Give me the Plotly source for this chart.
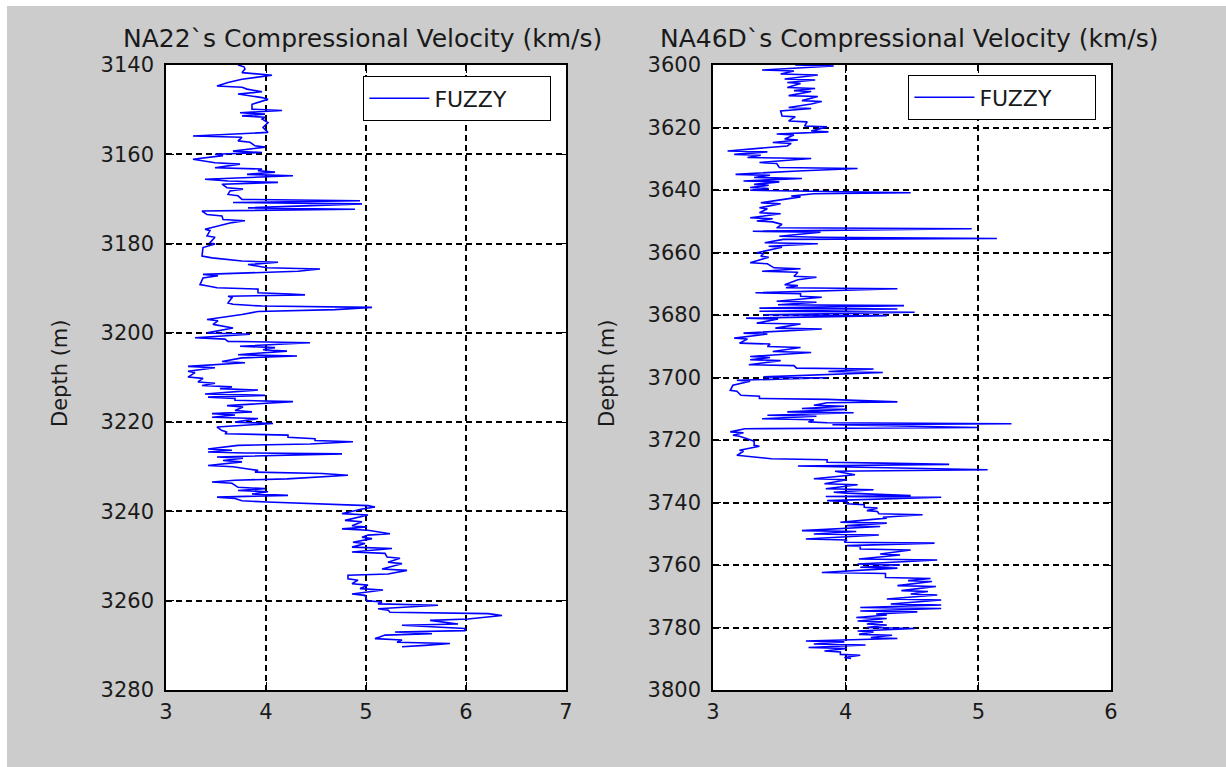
import plotly.graph_objects as go

# ---------------- data ----------------
na22_depth = [
    3140.0, 3140.4, 3140.9, 3141.7, 3142.3, 3143.2, 3143.9, 3144.7, 3145.0, 3145.4,
    3146.0, 3146.5, 3147.3, 3147.7, 3148.8, 3149.9, 3150.2, 3150.7, 3151.0, 3151.4,
    3151.7, 3152.1, 3152.9, 3154.0, 3155.1, 3155.9, 3156.2, 3157.0, 3157.3, 3158.1,
    3158.4, 3159.3, 3159.6, 3160.0, 3160.3, 3161.1, 3161.9, 3162.2, 3163.0, 3163.3,
    3163.7, 3164.0, 3164.5, 3164.8, 3165.6, 3166.0, 3166.3, 3166.7, 3167.5, 3167.8,
    3168.2, 3169.0, 3169.3, 3170.1, 3170.4, 3170.8, 3171.1, 3172.0, 3172.3, 3172.7,
    3173.5, 3173.8, 3174.6, 3174.9, 3175.3, 3176.8, 3177.1, 3178.3, 3178.6, 3179.8,
    3180.1, 3180.9, 3182.8, 3183.2, 3183.9, 3184.2, 3184.7, 3185.4, 3185.7, 3186.2,
    3186.9, 3187.2, 3187.7, 3189.2, 3189.5, 3189.9, 3190.2, 3191.0, 3191.3, 3191.5,
    3191.8, 3192.1, 3193.3, 3193.6, 3194.0, 3194.3, 3194.8, 3195.2, 3195.9, 3197.0,
    3197.3, 3198.1, 3198.9, 3200.0, 3200.3, 3201.1, 3201.4, 3201.9, 3202.2, 3203.0,
    3203.3, 3203.8, 3204.1, 3204.9, 3205.2, 3205.6, 3206.4, 3206.7, 3207.5, 3207.8,
    3208.6, 3208.9, 3209.9, 3210.2, 3211.0, 3211.3, 3211.8, 3212.1, 3212.5, 3212.8,
    3213.7, 3214.0, 3214.4, 3214.7, 3215.1, 3215.4, 3216.3, 3216.6, 3217.4, 3217.7,
    3218.1, 3218.4, 3218.9, 3219.2, 3220.0, 3220.3, 3221.1, 3221.9, 3222.2, 3222.6,
    3222.9, 3223.4, 3223.7, 3224.1, 3224.4, 3224.9, 3225.2, 3226.0, 3226.3, 3226.7,
    3226.9, 3227.1, 3227.8, 3228.1, 3228.6, 3228.9, 3229.7, 3230.0, 3230.5, 3230.8,
    3231.2, 3231.5, 3231.9, 3232.7, 3233.0, 3233.4, 3233.7, 3234.6, 3234.9, 3235.3,
    3235.6, 3236.1, 3236.4, 3236.8, 3237.1, 3237.6, 3237.9, 3238.3, 3238.7, 3239.0,
    3239.5, 3240.5, 3240.8, 3242.0, 3242.3, 3243.2, 3243.5, 3243.9, 3244.2, 3245.0,
    3245.3, 3245.8, 3246.1, 3246.9, 3247.2, 3248.0, 3248.3, 3249.1, 3249.4, 3250.2,
    3250.5, 3251.4, 3251.7, 3252.9, 3253.2, 3254.0, 3254.3, 3255.1, 3255.4, 3256.2,
    3256.5, 3257.3, 3257.6, 3258.5, 3258.8, 3260.0, 3260.3, 3260.7, 3261.0, 3261.8,
    3262.1, 3262.6, 3262.9, 3263.3, 3264.1, 3264.4, 3265.2, 3265.5, 3265.9, 3266.2,
    3266.7, 3267.0, 3267.4, 3267.7, 3268.5, 3268.8, 3269.3, 3269.6, 3270.0, 3270.3,
]
na22_vel = [
    3.72, 3.78, 3.79, 3.76, 4.06, 3.76, 3.62, 3.51, 3.76, 3.81,
    3.96, 3.72, 3.96, 4.02, 3.86, 3.86, 4.16, 3.74, 3.99, 3.76,
    3.99, 3.96, 4.02, 3.97, 4.02, 3.27, 3.76, 3.72, 3.84, 3.89,
    3.99, 3.67, 3.96, 3.49, 3.57, 3.27, 3.49, 3.74, 3.49, 3.96,
    3.92, 4.09, 3.81, 4.27, 3.39, 3.62, 4.12, 3.56, 3.61, 3.77,
    3.64, 3.62, 3.72, 3.76, 4.94, 3.67, 4.96, 3.82, 4.89, 3.36,
    3.41, 3.56, 3.57, 3.79, 3.66, 3.39, 3.44, 3.41, 3.49, 3.44,
    3.49, 3.37, 3.36, 3.46, 3.76, 4.12, 3.82, 4.01, 4.54, 4.32,
    3.37, 3.52, 3.37, 3.34, 3.42, 3.51, 3.92, 3.92, 4.24, 4.39,
    3.62, 3.66, 3.62, 3.67, 3.96, 5.06, 4.69, 3.92, 3.76, 3.41,
    3.52, 3.47, 3.67, 3.41, 3.84, 3.29, 3.59, 3.62, 4.44, 3.74,
    4.09, 3.97, 4.21, 3.72, 4.31, 3.76, 3.56, 3.79, 3.22, 3.49,
    3.22, 3.29, 3.22, 3.37, 3.32, 3.49, 3.36, 3.66, 3.54, 3.92,
    3.39, 3.99, 3.42, 3.69, 3.69, 4.27, 3.61, 3.77, 3.69, 3.86,
    3.46, 3.69, 3.46, 3.92, 3.69, 4.07, 3.51, 3.56, 3.61, 3.59,
    4.22, 4.22, 4.49, 4.49, 4.87, 4.44, 3.72, 3.42, 3.66, 3.42,
    3.79, 4.76, 3.51, 3.77, 3.57, 3.76, 3.42, 3.67, 3.82, 3.92,
    3.89, 4.56, 4.82, 4.21, 3.69, 3.46, 3.66, 3.72, 3.99, 3.72,
    4.02, 3.86, 4.22, 3.51, 3.69, 3.76, 4.01, 4.49, 5.02, 5.09,
    4.95, 4.76, 5.02, 4.79, 4.96, 4.86, 5.01, 4.76, 5.02, 5.24,
    5.02, 4.96, 5.06, 4.87, 4.99, 4.86, 5.26, 4.86, 5.19, 5.21,
    5.34, 5.22, 5.36, 5.16, 5.41, 5.22, 4.82, 4.82, 4.92, 4.86,
    5.02, 4.94, 5.17, 4.86, 4.99, 5.01, 5.16, 5.12, 5.72, 5.12,
    5.22, 5.24, 6.22, 6.36, 6.02, 5.64, 5.92, 5.36, 5.66, 5.99,
    5.99, 5.29, 5.66, 5.19, 5.09, 5.36, 5.31, 5.84, 5.59, 5.36,
]

na46d_depth = [
    3600.0, 3600.3, 3601.6, 3601.9, 3602.9, 3603.2, 3604.5, 3604.8, 3605.6, 3605.9,
    3607.2, 3607.5, 3608.2, 3608.5, 3609.8, 3610.1, 3611.4, 3611.7, 3612.5, 3613.6,
    3613.9, 3614.7, 3616.3, 3616.6, 3617.9, 3618.2, 3619.5, 3619.8, 3621.1, 3621.4,
    3622.1, 3622.4, 3623.7, 3624.0, 3624.8, 3625.1, 3625.9, 3627.5, 3627.8, 3628.6,
    3628.9, 3629.6, 3629.9, 3631.2, 3631.5, 3632.8, 3633.1, 3633.9, 3635.0, 3635.3,
    3636.0, 3636.3, 3637.1, 3637.4, 3638.2, 3638.5, 3639.2, 3639.5, 3640.1, 3640.4,
    3640.9, 3641.2, 3641.9, 3642.2, 3643.0, 3644.1, 3644.4, 3645.7, 3646.0, 3647.3,
    3647.6, 3648.9, 3649.2, 3649.9, 3650.2, 3651.0, 3652.1, 3652.4, 3653.2, 3653.5,
    3654.8, 3655.1, 3655.5, 3655.8, 3656.9, 3657.2, 3658.0, 3658.3, 3660.1, 3660.4,
    3661.2, 3661.5, 3663.3, 3663.6, 3664.9, 3665.2, 3666.0, 3666.3, 3667.6, 3667.9,
    3668.7, 3670.3, 3670.6, 3671.3, 3671.6, 3672.9, 3673.2, 3674.0, 3674.3, 3675.6,
    3675.9, 3676.7, 3677.0, 3677.8, 3678.1, 3678.8, 3679.1, 3679.9, 3680.2, 3681.0,
    3681.3, 3682.6, 3682.9, 3684.2, 3684.5, 3685.8, 3686.1, 3687.4, 3687.7, 3689.0,
    3689.3, 3690.1, 3690.4, 3691.7, 3692.0, 3693.3, 3693.6, 3694.3, 3694.6, 3695.9,
    3696.2, 3697.0, 3697.3, 3698.1, 3698.4, 3699.8, 3700.1, 3700.9, 3701.2, 3702.5,
    3704.1, 3704.4, 3705.7, 3706.0, 3706.7, 3707.0, 3707.8, 3708.1, 3708.9, 3709.2,
    3709.9, 3710.2, 3711.0, 3711.3, 3712.1, 3712.4, 3713.2, 3713.5, 3714.2, 3714.5,
    3714.8, 3715.1, 3716.0, 3716.4, 3717.4, 3717.7, 3718.5, 3718.8, 3720.1, 3720.4,
    3721.7, 3722.0, 3723.3, 3723.6, 3724.9, 3725.2, 3726.0, 3726.3, 3727.1, 3727.4,
    3727.8, 3728.3, 3729.2, 3729.5, 3730.0, 3731.1, 3732.4, 3732.7, 3734.0, 3734.3,
    3735.6, 3735.9, 3736.7, 3737.0, 3737.8, 3738.1, 3738.3, 3739.4, 3739.7, 3740.4,
    3740.7, 3741.5, 3741.8, 3742.6, 3742.9, 3743.6, 3743.9, 3744.7, 3745.0, 3746.3,
    3746.6, 3747.4, 3747.7, 3749.0, 3749.3, 3750.1, 3750.4, 3751.7, 3752.0, 3752.7,
    3753.0, 3753.8, 3754.1, 3754.9, 3755.2, 3756.5, 3756.8, 3758.1, 3758.4, 3759.7,
    3760.0, 3760.7, 3761.0, 3762.4, 3762.7, 3764.0, 3764.3, 3765.0, 3765.3, 3766.6,
    3766.9, 3768.2, 3768.5, 3769.3, 3769.6, 3770.9, 3771.2, 3772.5, 3772.8, 3773.6,
    3773.9, 3774.7, 3775.0, 3775.7, 3776.0, 3776.8, 3777.1, 3777.9, 3778.2, 3778.9,
    3779.2, 3780.0, 3780.3, 3781.1, 3781.4, 3782.2, 3782.5, 3783.2, 3783.5, 3784.3,
    3784.6, 3785.3, 3785.6, 3786.4, 3786.7, 3787.5, 3787.8, 3788.6, 3788.9, 3789.6,
    3789.9,
]
na46d_vel = [
    3.62, 3.91, 3.37, 3.61, 3.51, 3.79, 3.54, 3.77, 3.56, 3.66,
    3.56, 3.77, 3.61, 3.74, 3.57, 3.79, 3.67, 3.82, 3.74, 3.57,
    3.74, 3.51, 3.52, 3.62, 3.57, 3.71, 3.69, 3.86, 3.74, 3.87,
    3.48, 3.61, 3.54, 3.64, 3.45, 3.59, 3.56, 3.11, 3.41, 3.16,
    3.36, 3.26, 3.74, 3.35, 3.48, 3.50, 4.09, 3.64, 3.17, 3.43,
    3.31, 3.67, 3.23, 3.50, 3.31, 3.42, 3.28, 3.42, 3.28, 3.76,
    4.49, 3.76, 3.59, 3.66, 3.52, 3.36, 3.51, 3.35, 3.41, 3.35,
    3.51, 3.28, 3.45, 3.33, 3.45, 3.52, 3.48, 4.95, 3.30, 3.81,
    3.50, 3.80, 5.14, 3.53, 3.39, 3.79, 3.42, 3.52, 3.33, 3.38,
    3.36, 3.42, 3.28, 3.41, 3.46, 3.66, 3.37, 3.64, 3.61, 3.78,
    3.64, 3.54, 3.64, 3.55, 4.39, 3.32, 3.66, 3.66, 3.82, 3.48,
    3.78, 3.49, 4.44, 3.35, 4.39, 3.35, 4.52, 3.38, 4.31, 3.25,
    3.49, 3.33, 3.66, 3.47, 3.82, 3.23, 3.41, 3.16, 3.26, 3.20,
    3.43, 3.41, 3.66, 3.45, 3.74, 3.28, 3.43, 3.28, 3.51, 3.27,
    3.61, 3.63, 4.21, 3.87, 4.28, 3.38, 3.86, 3.18, 3.28, 3.15,
    3.13, 3.18, 3.21, 3.35, 3.35, 3.86, 4.39, 3.86, 3.76, 3.99,
    3.67, 4.01, 3.56, 4.06, 3.41, 3.78, 3.37, 3.76, 3.72, 3.86,
    5.25, 3.90, 5.00, 3.24, 3.13, 3.23, 3.15, 3.20, 3.29, 3.31,
    3.31, 3.35, 3.20, 3.23, 3.18, 3.26, 3.44, 3.86, 3.86, 4.28,
    4.78, 3.64, 4.72, 5.07, 3.92, 4.07, 3.76, 4.01, 3.84, 4.09,
    3.85, 4.21, 3.91, 4.01, 4.49, 3.85, 4.72, 3.86, 4.01, 4.01,
    4.14, 4.14, 4.24, 4.16, 4.24, 4.25, 4.58, 4.28, 4.31, 3.96,
    4.31, 4.01, 4.26, 3.67, 4.08, 3.76, 4.25, 3.70, 4.01, 3.99,
    4.67, 4.01, 4.11, 4.11, 4.49, 4.26, 4.41, 4.10, 4.69, 4.09,
    4.41, 4.11, 4.39, 3.82, 4.30, 4.30, 4.64, 4.47, 4.65, 4.39,
    4.68, 4.42, 4.62, 4.49, 4.69, 4.31, 4.72, 4.34, 4.72, 4.11,
    4.72, 4.11, 4.54, 4.23, 4.31, 4.08, 4.31, 4.09, 4.28, 4.16,
    4.31, 4.16, 4.52, 4.09, 4.21, 4.10, 4.35, 4.19, 4.39, 3.70,
    3.99, 3.76, 4.15, 3.72, 4.01, 3.84, 3.96, 3.96, 4.11, 3.99,
    4.04,
]

left_title = "NA22`s Compressional Velocity (km/s)"
right_title = "NA46D`s Compressional Velocity (km/s)"
y_title = "Depth (m)"
series_name = "FUZZY"
left_xticks = [3, 4, 5, 6, 7]
right_xticks = [3, 4, 5, 6]
left_yticks = [3140, 3160, 3180, 3200, 3220, 3240, 3260, 3280]
right_yticks = [3600, 3620, 3640, 3660, 3680, 3700, 3720, 3740, 3760, 3780, 3800]

# ---------------- layout geometry ----------------
W, H = 1226, 767
ML, MR, MT, MB = 166, 115, 65, 77
PW, PH = W - ML - MR, H - MT - MB


def fx(px):
    return (px - ML) / PW


def fy(py):
    return 1 - (py - MT) / PH


FONT = "DejaVu Sans"
TXT = "#1a1a1a"
BG = "#cccccc"

axis_common = dict(
    showline=True, linecolor="black", linewidth=1.6, mirror="allticks",
    ticks="inside", ticklen=8, tickwidth=1.4, tickcolor="black",
    showgrid=True, gridcolor="#000000", gridwidth=1.8, griddash="6px,4px",
    zeroline=False, tickfont=dict(family=FONT, size=21, color=TXT),
)

fig = go.Figure()
fig.add_trace(go.Scatter(x=na22_vel, y=na22_depth, mode="lines", name=series_name,
                         line=dict(color="#0000ff", width=1.6),
                         xaxis="x", yaxis="y", legend="legend"))
fig.add_trace(go.Scatter(x=na46d_vel, y=na46d_depth, mode="lines", name=series_name,
                         line=dict(color="#0000ff", width=1.6),
                         xaxis="x2", yaxis="y2", legend="legend2"))

legend_common = dict(xanchor="right", yanchor="top", bgcolor="white",
                     bordercolor="black", borderwidth=1.4, orientation="h",
                     entrywidth=110, entrywidthmode="pixels",
                     font=dict(family=FONT, size=22, color=TXT), itemwidth=60)

fig.update_layout(
    width=W, height=H,
    margin=dict(l=ML, r=MR, t=MT, b=MB),
    paper_bgcolor="white", plot_bgcolor="white",
    showlegend=True,
    xaxis=dict(domain=[0, fx(566)], range=[3, 7], tickvals=left_xticks, anchor="y",
               ticklabelstandoff=2, **axis_common),
    yaxis=dict(domain=[0, 1], range=[3280, 3140], tickvals=left_yticks, anchor="x",
               ticklabelstandoff=6, **axis_common),
    xaxis2=dict(domain=[fx(713), 1], range=[3, 6], tickvals=right_xticks, anchor="y2",
                ticklabelstandoff=2, **axis_common),
    yaxis2=dict(domain=[0, 1], range=[3800, 3600], tickvals=right_yticks, anchor="x2",
                ticklabelstandoff=6, **axis_common),
    legend=dict(x=fx(551), y=fy(76), **legend_common),
    legend2=dict(x=fx(1096), y=fy(75), **legend_common),
    shapes=[
        dict(type="rect", xref="paper", yref="paper", x0=fx(7), x1=fx(W + 5), y0=fy(H + 5), y1=fy(6),
             fillcolor=BG, line=dict(width=0), layer="below"),
        dict(type="rect", xref="x domain", yref="y domain", x0=0, x1=1, y0=0, y1=1,
             fillcolor="white", line=dict(width=0), layer="below"),
        dict(type="rect", xref="x2 domain", yref="y2 domain", x0=0, x1=1, y0=0, y1=1,
             fillcolor="white", line=dict(width=0), layer="below"),
    ],
    annotations=[
        dict(text=left_title, xref="paper", yref="paper", x=fx(362), y=fy(38),
             xanchor="center", yanchor="middle", showarrow=False,
             font=dict(family=FONT, size=25, color=TXT)),
        dict(text=right_title, xref="paper", yref="paper", x=fx(909), y=fy(38),
             xanchor="center", yanchor="middle", showarrow=False,
             font=dict(family=FONT, size=25, color=TXT)),
        dict(text=y_title, xref="paper", yref="paper", x=fx(60), y=fy(374),
             xanchor="center", yanchor="middle", textangle=-90, showarrow=False,
             font=dict(family=FONT, size=21, color=TXT)),
        dict(text=y_title, xref="paper", yref="paper", x=fx(607), y=fy(374),
             xanchor="center", yanchor="middle", textangle=-90, showarrow=False,
             font=dict(family=FONT, size=21, color=TXT)),
    ],
)

fig.write_html("out.html")
